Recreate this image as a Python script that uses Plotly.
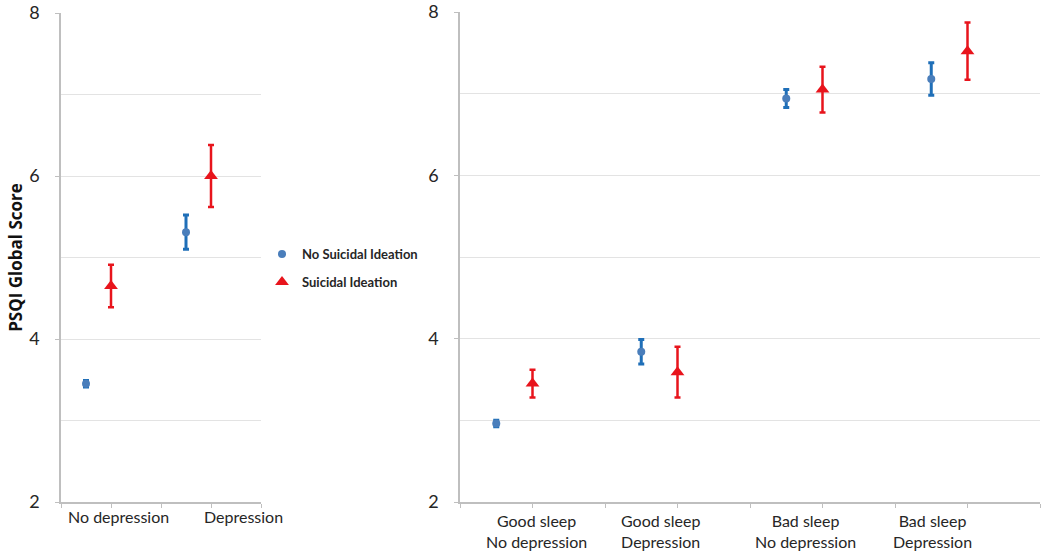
import plotly.graph_objects as go

# left panel: depression only
dep_labels = ["No depression", "Depression"]
dep_no_si = [3.45, 5.31]
dep_no_si_err = [0.04, 0.21]
dep_si = [4.65, 6.0]
dep_si_err = [0.26, 0.38]
dep_x_no_si = [0.5, 2.5]
dep_x_si = [1.0, 3.0]
dep_label_x = [1.14, 3.65]

# right panel: sleep x depression
grp_labels = ["Good sleep<br>No depression", "Good sleep<br>Depression",
              "Bad sleep<br>No depression", "Bad sleep<br>Depression"]
grp_no_si = [2.96, 3.84, 6.94, 7.18]
grp_no_si_err = [0.04, 0.15, 0.11, 0.20]
grp_si = [3.45, 3.59, 7.05, 7.52]
grp_si_err = [0.17, 0.31, 0.28, 0.35]
grp_x_no_si = [0.5, 2.5, 4.5, 6.5]
grp_x_si = [1.0, 3.0, 5.0, 7.0]
grp_label_x = [1.05, 2.77, 4.76, 6.52]

BLUE = "#4a7ebb"
BLUE_ERR = "#1f6fb8"
RED = "#e8141c"
FONT = "Lato"
W, H = 1050, 557

fig = go.Figure()


def add_pair(xs_b, yb, eb, xs_r, yr, er, xa, ya, legend):
    fig.add_trace(go.Scatter(
        x=xs_b, y=yb, mode="markers", name="No Suicidal Ideation",
        xaxis=xa, yaxis=ya, showlegend=legend, legend="legend",
        marker=dict(symbol="circle", size=8, color=BLUE),
        error_y=dict(type="data", array=eb, color=BLUE_ERR, thickness=3, width=3),
    ))
    fig.add_trace(go.Scatter(
        x=xs_r, y=yr, mode="markers", name="Suicidal Ideation",
        xaxis=xa, yaxis=ya, showlegend=legend, legend="legend2",
        marker=dict(symbol="triangle-up", size=12, color=RED),
        error_y=dict(type="data", array=er, color=RED, thickness=2.5, width=3),
    ))


add_pair(dep_x_no_si, dep_no_si, dep_no_si_err, dep_x_si, dep_si, dep_si_err, "x", "y", True)
add_pair(grp_x_no_si, grp_no_si, grp_no_si_err, grp_x_si, grp_si, grp_si_err, "x2", "y2", False)


def px_x(p):
    return p / W


def px_y(p):
    return 1 - p / H


axis_common = dict(showline=True, linecolor="#bfbfbf", linewidth=1.5, zeroline=False,
                   automargin=False)
yaxis_common = dict(
    axis_common, range=[2, 8], dtick=2, tick0=2, ticks="outside", ticklen=4,
    tickcolor="#bfbfbf", showgrid=True, gridcolor="#e3e3e3", gridwidth=1,
    minor=dict(dtick=1, showgrid=True, gridcolor="#e3e3e3", ticks=""),
    tickfont=dict(family=FONT, size=18, color="#262626"), ticklabelstandoff=12,
    ticklabeloverflow="allow",
)
xaxis_common = dict(
    axis_common, dtick=1, tick0=0, ticks="outside", ticklen=4, tickcolor="#bfbfbf",
    showgrid=False, showticklabels=False,
)

fig.update_layout(
    width=W, height=H,
    margin=dict(l=0, r=0, t=0, b=0),
    paper_bgcolor="white", plot_bgcolor="white",
    xaxis=dict(xaxis_common, range=[0, 4], domain=[px_x(61), px_x(261)], anchor="y"),
    yaxis=dict(yaxis_common, domain=[px_y(502), px_y(13)], anchor="x",
               title=dict(text="<b>PSQI Global Score</b>", standoff=2,
                          font=dict(family="Open Sans", size=17, color="#111111"))),
    xaxis2=dict(xaxis_common, range=[0, 8], domain=[px_x(460), px_x(1040)], anchor="y2"),
    yaxis2=dict(yaxis_common, domain=[px_y(502), px_y(12)], anchor="x2"),
    legend=dict(x=px_x(262), y=px_y(254), xanchor="left", yanchor="middle",
                font=dict(family=FONT, size=13, color="#262626", weight="bold"),
                itemwidth=30, bgcolor="rgba(0,0,0,0)"),
    legend2=dict(x=px_x(262), y=px_y(282), xanchor="left", yanchor="middle",
                 font=dict(family=FONT, size=13, color="#262626", weight="bold"),
                 itemwidth=30, bgcolor="rgba(0,0,0,0)"),
    showlegend=True,
)

for lx, lab in zip(dep_label_x, dep_labels):
    fig.add_annotation(x=lx, y=px_y(516), xref="x", yref="paper", yanchor="middle",
                       text=lab, showarrow=False,
                       font=dict(family=FONT, size=16, color="#262626"))
for lx, lab in zip(grp_label_x, grp_labels):
    fig.add_annotation(x=lx, y=px_y(531), xref="x2", yref="paper", yanchor="middle",
                       text=lab, showarrow=False, align="center",
                       font=dict(family=FONT, size=16, color="#262626"))

# page body has a default margin; drop it so the figure fills the window
fig.write_html("out.html", config={"displayModeBar": False},
               post_script="document.body.style.margin='0';document.body.style.overflow='hidden';")
